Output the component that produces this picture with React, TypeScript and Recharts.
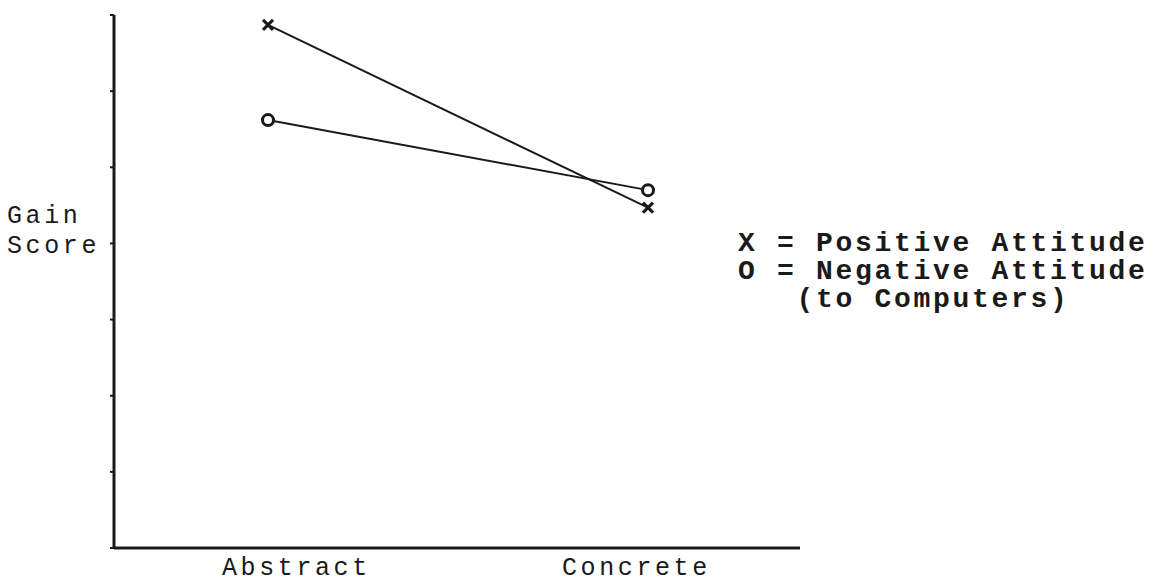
import { LineChart, Line, XAxis, YAxis } from 'recharts';

const categories = ['Abstract', 'Concrete'];
const positiveAttitude = [6.87, 4.47];
const negativeAttitude = [5.62, 4.7];
const yTicks = [0, 1, 2, 3, 4, 5, 6, 7];
const legendLines = ['X = Positive Attitude', 'O = Negative Attitude', '   (to Computers)'];

const data = categories.map((name, i) => ({
  name,
  positive: positiveAttitude[i],
  negative: negativeAttitude[i],
}));

const INK = '#1a1a1a';
const MONO = '"Liberation Mono", "DejaVu Sans Mono", monospace';

// label starts are shifted a bit off the point, as in the original plot
const labelShift: Record<string, number> = { Abstract: -46, Concrete: -86 };

function CategoryTick(props: any) {
  const { x, y, payload } = props;
  return (
    <text
      x={x + (labelShift[payload.value] ?? 0)}
      y={y + 19}
      fill={INK}
      fontFamily={MONO}
      fontSize={25}
      letterSpacing={3.6}
      textAnchor="start"
    >
      {payload.value}
    </text>
  );
}

function CrossDot(props: any) {
  const { cx, cy } = props;
  if (cx == null || cy == null) return null;
  const s = 5;
  return (
    <g stroke={INK} strokeWidth={3}>
      <line x1={cx - s} y1={cy - s} x2={cx + s} y2={cy + s} />
      <line x1={cx - s} y1={cy + s} x2={cx + s} y2={cy - s} />
    </g>
  );
}

function CircleDot(props: any) {
  const { cx, cy } = props;
  if (cx == null || cy == null) return null;
  return <circle cx={cx} cy={cy} r={5.5} fill="#fff" stroke={INK} strokeWidth={3} />;
}

function GainLabel() {
  return (
    <text fill={INK} fontFamily={MONO} fontSize={25} letterSpacing={3.6}>
      <tspan x={7} y={223}>Gain</tspan>
      <tspan x={7} y={253}>Score</tspan>
    </text>
  );
}

export default function App() {
  return (
    <div style={{ position: 'absolute', left: 0, top: 0, width: 1155, height: 584, background: '#fff' }}>
      <LineChart
        width={1155}
        height={584}
        data={data}
        margin={{ top: 15, right: 355, bottom: 0, left: 84 }}
      >
        <XAxis
          dataKey="name"
          height={36}
          padding={{ left: 154, right: 152 }}
          axisLine={{ stroke: INK, strokeWidth: 3 }}
          tickLine={false}
          tick={<CategoryTick />}
        />
        <YAxis
          width={30}
          domain={[0, 7]}
          ticks={yTicks}
          interval={0}
          axisLine={{ stroke: INK, strokeWidth: 3 }}
          tickLine={{ stroke: INK, strokeWidth: 2 }}
          tickSize={4}
          tickFormatter={() => ''}
          label={<GainLabel />}
        />
        <Line
          dataKey="positive"
          stroke={INK}
          strokeWidth={2}
          dot={<CrossDot />}
          activeDot={false}
          isAnimationActive={false}
        />
        <Line
          dataKey="negative"
          stroke={INK}
          strokeWidth={2}
          dot={<CircleDot />}
          activeDot={false}
          isAnimationActive={false}
        />
      </LineChart>
      <div
        style={{
          position: 'absolute',
          left: 738,
          top: 230,
          fontFamily: MONO,
          fontSize: 28,
          fontWeight: 'bold',
          letterSpacing: 2.7,
          lineHeight: '28px',
          color: INK,
          whiteSpace: 'pre',
        }}
      >
        {legendLines.map((t) => (
          <div key={t}>{t}</div>
        ))}
      </div>
    </div>
  );
}
